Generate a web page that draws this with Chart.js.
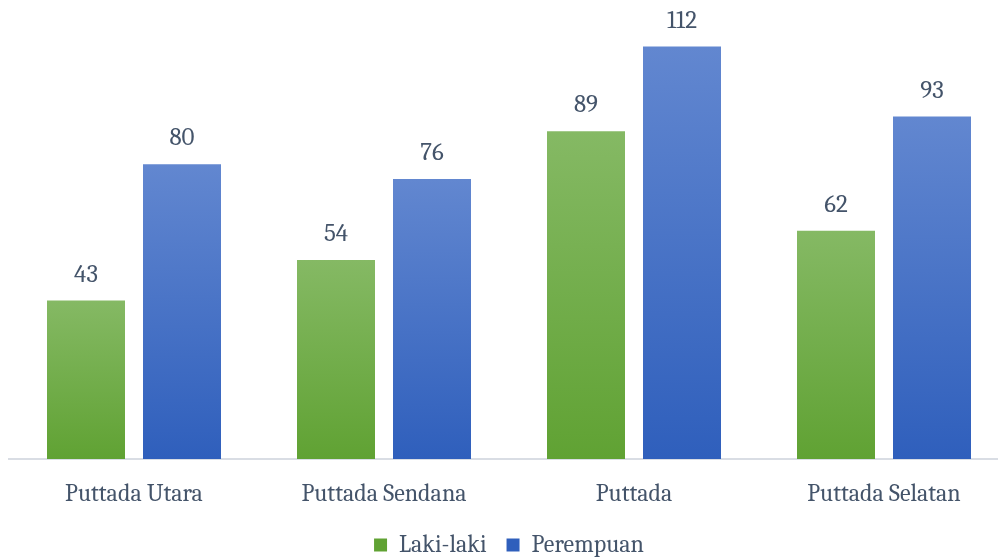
<!DOCTYPE html>
<html lang="id">
<head>
    <meta charset="UTF-8">
    <title>Puttada</title>
    <script src="https://cdn.jsdelivr.net/npm/chart.js"></script>
    <style>
        html, body { margin: 0; padding: 0; background: #fff; overflow: hidden; }
        #wrap { width: 1009px; height: 559px; }
    </style>
</head>
<body>
<div id="wrap"><canvas id="chart"></canvas></div>

<script>
    const categories = ['Puttada Utara', 'Puttada Sendana', 'Puttada', 'Puttada Selatan'];
    const lakiLaki = [43, 54, 89, 62];
    const perempuan = [80, 76, 112, 93];

    const textColor = '#44546a';
    const fontFamily = 'Cambria, "DejaVu Serif", serif';

    // per-bar vertical gradient, light at top, darker at bottom
    function barGradient(top, bottom, solid) {
        return (ctx) => {
            const chart = ctx.chart;
            if (ctx.dataIndex === undefined || !chart.chartArea || !chart.scales.y) return solid;
            const v = ctx.dataset.data[ctx.dataIndex];
            const y0 = chart.scales.y.getPixelForValue(0);
            const y1 = chart.scales.y.getPixelForValue(v);
            const g = chart.ctx.createLinearGradient(0, y1, 0, y0);
            g.addColorStop(0, top);
            g.addColorStop(1, bottom);
            return g;
        };
    }

    const valueLabels = {
        id: 'valueLabels',
        afterDatasetsDraw(chart) {
            const c = chart.ctx;
            c.save();
            c.font = '25px ' + fontFamily;
            c.fillStyle = textColor;
            c.textAlign = 'center';
            c.textBaseline = 'middle';
            chart.data.datasets.forEach((ds, i) => {
                chart.getDatasetMeta(i).data.forEach((bar, j) => {
                    c.fillText(ds.data[j], bar.x, bar.y - 26);
                });
            });
            c.restore();
        }
    };

    new Chart(document.getElementById('chart'), {
        type: 'bar',
        data: {
            labels: categories,
            datasets: [
                {
                    label: 'Laki-laki',
                    data: lakiLaki,
                    backgroundColor: barGradient('#85b964', '#60a233', '#6cab42'),
                    borderWidth: 0
                },
                {
                    label: 'Perempuan',
                    data: perempuan,
                    backgroundColor: barGradient('#6287d0', '#2f5fbc', '#4773c8'),
                    borderWidth: 0
                }
            ]
        },
        options: {
            responsive: true,
            maintainAspectRatio: false,
            animation: false,
            categoryPercentage: 0.768,
            barPercentage: 0.8125,
            layout: { padding: { top: 17, left: 9, right: 0, bottom: -8 } },
            plugins: {
                tooltip: { enabled: false },
                legend: {
                    position: 'bottom',
                    labels: {
                        color: textColor,
                        font: { family: fontFamily, size: 24 },
                        boxWidth: 13,
                        boxHeight: 13,
                        padding: 20
                    }
                }
            },
            scales: {
                x: {
                    grid: { display: false },
                    border: { color: '#d9dde4', width: 2 },
                    ticks: {
                        color: textColor,
                        font: { family: fontFamily, size: 24 },
                        padding: 13
                    },
                    afterFit(scale) { scale.height = 54; }
                },
                y: {
                    display: false,
                    min: 0,
                    max: 120
                }
            }
        },
        plugins: [valueLabels]
    });
</script>
</body>
</html>
